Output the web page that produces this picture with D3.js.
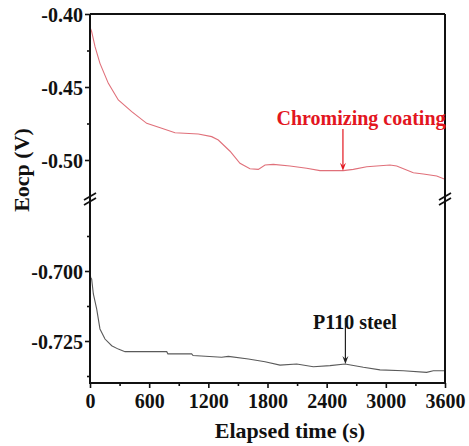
<!DOCTYPE html>
<html>
<head>
<meta charset="utf-8">
<script src="https://cdn.jsdelivr.net/npm/d3@7"></script>
<style>
  html, body { margin: 0; padding: 0; background: #fff; }
  svg text { font-family: "Liberation Serif", "Times New Roman", serif; font-weight: bold; }
</style>
</head>
<body>
<svg id="chart" width="469" height="446"></svg>
<script>
// Open-circuit potential vs. elapsed time (s, V)
const coatingTime = [0, 17, 51, 101, 186, 287, 423, 575, 727, 862, 1098, 1234, 1301, 1420, 1521, 1622, 1707, 1775, 1859, 2028, 2197, 2332, 2569, 2670, 2806, 3042, 3110, 3279, 3380, 3516, 3600];
const coatingEocp = [-0.409, -0.4121, -0.4224, -0.4338, -0.4475, -0.4589, -0.4669, -0.4749, -0.4783, -0.4813, -0.4822, -0.4840, -0.4863, -0.4940, -0.5023, -0.5060, -0.5064, -0.5034, -0.5030, -0.5041, -0.5057, -0.5073, -0.5073, -0.5064, -0.5046, -0.5034, -0.5041, -0.5087, -0.5096, -0.5110, -0.5132];

const steelTime = [0, 7, 17, 34, 68, 101, 152, 220, 287, 355, 778, 790, 1031, 1045, 1335, 1403, 1606, 1775, 1927, 2096, 2265, 2434, 2586, 2772, 2941, 3177, 3414, 3481, 3600];
const steelEocp = [-0.7010, -0.7023, -0.7029, -0.7082, -0.7136, -0.7207, -0.7243, -0.7267, -0.7279, -0.7288, -0.7288, -0.7296, -0.7296, -0.7302, -0.7308, -0.7305, -0.7314, -0.7324, -0.7336, -0.7332, -0.7342, -0.7338, -0.7332, -0.7344, -0.7353, -0.7356, -0.7362, -0.7356, -0.7356];

const xTicks = [0, 600, 1200, 1800, 2400, 3000, 3600];
const xMinor = [300, 900, 1500, 2100, 2700, 3300];
const upperTicks = [-0.40, -0.45, -0.50];
const upperMinor = [-0.425, -0.475, -0.525];
const lowerTicks = [-0.700, -0.725];
const lowerMinor = [-0.6875, -0.7125, -0.7375];

const svg = d3.select("#chart");
const L = 90, R = 445, T = 14, B = 383;
const upperBottom = 194, lowerTop = 206, breakY = 199;

const x = d3.scaleLinear().domain([0, 3600]).range([L, R]);
const yUp = d3.scaleLinear().domain([-0.40, -0.40 - (upperBottom - T) / 73 * 0.05]).range([T, upperBottom]);
const yLo = d3.scaleLinear().domain([-0.740, -0.740 + (B - lowerTop) / 70 * 0.025]).range([B, lowerTop]);

const frame = svg.append("g").attr("stroke", "#111").attr("stroke-width", 2).attr("fill", "none");
frame.append("line").attr("x1", L).attr("x2", R).attr("y1", T).attr("y2", T);
frame.append("line").attr("x1", R).attr("x2", R).attr("y1", T).attr("y2", B);

svg.append("clipPath").attr("id", "cUp").append("rect").attr("x", L).attr("y", T).attr("width", R - L).attr("height", upperBottom - T);
svg.append("clipPath").attr("id", "cLo").append("rect").attr("x", L).attr("y", lowerTop).attr("width", R - L).attr("height", B - lowerTop);

const lineUp = d3.line().x((d, i) => x(coatingTime[i])).y(d => yUp(d));
const lineLo = d3.line().x((d, i) => x(steelTime[i])).y(d => yLo(d));

svg.append("path").attr("d", lineUp(coatingEocp))
  .attr("fill", "none").attr("stroke", "#e0707a").attr("stroke-width", 1.1).attr("clip-path", "url(#cUp)");
svg.append("path").attr("d", lineLo(steelEocp))
  .attr("fill", "none").attr("stroke", "#5a5a5a").attr("stroke-width", 1.1).attr("clip-path", "url(#cLo)");

// left and bottom axes
const fmt = n => v => v.toFixed(n);
const axUp = svg.append("g").attr("transform", `translate(${L},0)`)
  .call(d3.axisLeft(yUp).tickValues(upperTicks).tickFormat(fmt(2)).tickSize(5).tickPadding(2));
const axUpMinor = svg.append("g").attr("transform", `translate(${L},0)`)
  .call(d3.axisLeft(yUp).tickValues(upperMinor.filter(v => yUp(v) <= upperBottom)).tickFormat("").tickSize(3));
const axLo = svg.append("g").attr("transform", `translate(${L},0)`)
  .call(d3.axisLeft(yLo).tickValues(lowerTicks).tickFormat(fmt(3)).tickSize(5).tickPadding(2));
const axLoMinor = svg.append("g").attr("transform", `translate(${L},0)`)
  .call(d3.axisLeft(yLo).tickValues(lowerMinor).tickFormat("").tickSize(3));
const axX = svg.append("g").attr("transform", `translate(0,${B})`)
  .call(d3.axisBottom(x).tickValues(xTicks).tickFormat(d3.format("d")).tickSize(5).tickPadding(6));
const axXMinor = svg.append("g").attr("transform", `translate(0,${B})`)
  .call(d3.axisBottom(x).tickValues(xMinor).tickFormat("").tickSize(3));

[axUp, axUpMinor, axLo, axLoMinor, axX, axXMinor].forEach(g => {
  g.select(".domain").remove();
  g.selectAll(".tick line").attr("stroke", "#111").attr("stroke-width", 1.6);
  g.selectAll("text").attr("fill", "#111").style("font-size", "20px");
});
axUp.selectAll("text").attr("dy", "0.36em");
axLo.selectAll("text").attr("dy", "0.36em");
axX.selectAll("text").attr("dy", "0.71em");

frame.raise();
frame.append("line").attr("x1", L).attr("x2", L).attr("y1", T).attr("y2", B + 1);
frame.append("line").attr("x1", L - 1).attr("x2", R + 1).attr("y1", B).attr("y2", B);

// break marks on both vertical axes
[L, R].forEach(cx => {
  [-2.5, 2.5].forEach(off => {
    svg.append("line")
      .attr("x1", cx - 6).attr("y1", breakY + off + 3.5)
      .attr("x2", cx + 6).attr("y2", breakY + off - 3.5)
      .attr("stroke", "#111").attr("stroke-width", 1.8);
  });
});

// annotations
const arrow = (g, xv, y1, y2, color) => {
  g.append("line").attr("x1", x(xv)).attr("x2", x(xv)).attr("y1", y1).attr("y2", y2 - 5)
    .attr("stroke", color).attr("stroke-width", 1.2);
  g.append("path").attr("d", `M${x(xv) - 3},${y2 - 8} L${x(xv)},${y2} L${x(xv) + 3},${y2 - 8} L${x(xv)},${y2 - 5}Z`)
    .attr("fill", color);
};
const ann = svg.append("g");
ann.append("text").attr("x", 361).attr("y", 125).attr("text-anchor", "middle")
  .attr("fill", "#e3161f").style("font-size", "20px").text("Chromizing coating");
arrow(ann, 2565, 129, yUp(-0.5073), "#e3161f");
ann.append("text").attr("x", 355).attr("y", 329).attr("text-anchor", "middle")
  .attr("fill", "#111").style("font-size", "20px").text("P110 steel");
arrow(ann, 2590, 318, yLo(-0.7332), "#222");

// axis titles
svg.append("text").attr("x", 290).attr("y", 438).attr("text-anchor", "middle")
  .attr("fill", "#111").style("font-size", "22px").text("Elapsed time (s)");
svg.append("text").attr("transform", "translate(29,170) rotate(-90)").attr("text-anchor", "middle")
  .attr("fill", "#111").style("font-size", "22px").text("Eocp (V)");
</script>
</body>
</html>
